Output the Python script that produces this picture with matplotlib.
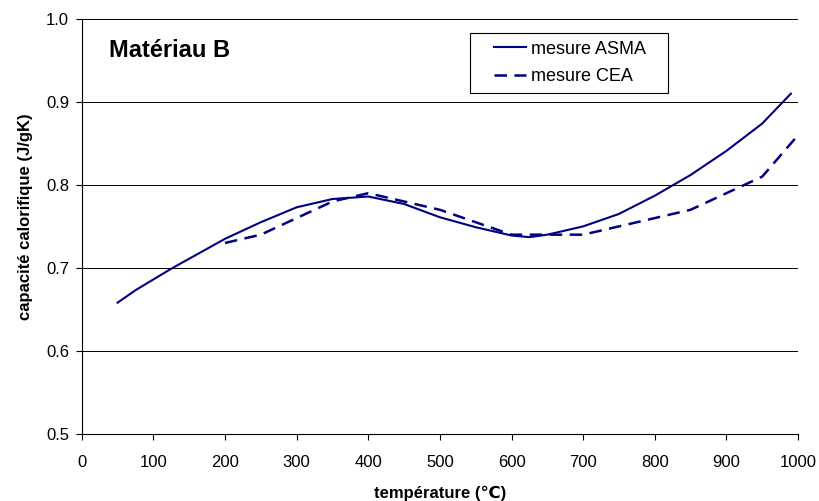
import matplotlib
matplotlib.use("Agg")
import matplotlib.pyplot as plt
from matplotlib.legend_handler import HandlerLine2D
import numpy as np

plt.rcParams['font.family'] = ['Liberation Sans', 'DejaVu Sans']

# mesure ASMA (courbe lissée)
temp_asma = [50, 75, 100, 125, 150, 200, 250, 300, 350, 400, 450, 500, 550, 600, 625,
             650, 700, 750, 800, 850, 900, 950, 990]
cp_asma = [0.658, 0.673, 0.686, 0.699, 0.711, 0.735, 0.755, 0.773, 0.783, 0.786, 0.777,
           0.761, 0.749, 0.739, 0.737, 0.740, 0.750, 0.765, 0.787, 0.812, 0.841, 0.874, 0.910]

# mesure CEA
temp_cea = [200, 250, 300, 350, 400, 450, 500, 550, 600, 650, 700, 750, 800, 850, 900, 950, 1000]
cp_cea = [0.730, 0.740, 0.760, 0.780, 0.790, 0.780, 0.770, 0.755, 0.740, 0.740, 0.740,
          0.750, 0.760, 0.770, 0.790, 0.810, 0.860]

couleur = '#000080'

fig, ax = plt.subplots(figsize=(8.19, 5.01), dpi=100)
fig.subplots_adjust(left=0.0998, right=0.9744, top=0.962, bottom=0.1343)

l1, = ax.plot(temp_asma, cp_asma, color=couleur, lw=1.5, label='mesure ASMA   ')
l2, = ax.plot(temp_cea, cp_cea, color=couleur, lw=1.8, ls=(0, (5, 3)), label='mesure CEA')

ax.set_xlim(0, 1000)
ax.set_ylim(0.5, 1.0)
ax.set_xticks(np.arange(0, 1001, 100))
ax.set_yticks(np.arange(0.5, 1.01, 0.1))
ax.set_yticklabels([f"{v:.1f}" for v in np.arange(0.5, 1.01, 0.1)])
ax.tick_params(labelsize=12, direction='out', length=4, width=0.8, colors='black')
ax.tick_params(axis='x', pad=11)
ax.tick_params(axis='y', pad=5)

ax.yaxis.grid(True, color='black', lw=0.7)
ax.set_axisbelow(True)
for s in ['top', 'right']:
    ax.spines[s].set_visible(False)
for s in ['left', 'bottom']:
    ax.spines[s].set_linewidth(0.8)

ax.set_xlabel('température (\u2103)', fontsize=12, fontweight='bold', labelpad=12)
ax.set_ylabel('capacité calorifique (J/gK)', fontsize=12, fontweight='bold')
ax.yaxis.set_label_coords(-0.068, 0.524)

ax.text(0.038, 0.925, 'Matériau B', transform=ax.transAxes, fontsize=17,
        fontweight='bold', va='center', ha='left')

h = HandlerLine2D(xpad=0.95)
leg = ax.legend(handles=[l1, l2], handler_map={l1: h, l2: h},
                loc='upper left', bbox_to_anchor=(0.542, 0.9655), borderaxespad=0,
                fancybox=False, edgecolor='black', framealpha=1, fontsize=13,
                handlelength=2.7, handletextpad=0.3, borderpad=0.4, labelspacing=0.6)
leg.get_frame().set_linewidth(0.8)

plt.savefig('out.png', dpi=100)
